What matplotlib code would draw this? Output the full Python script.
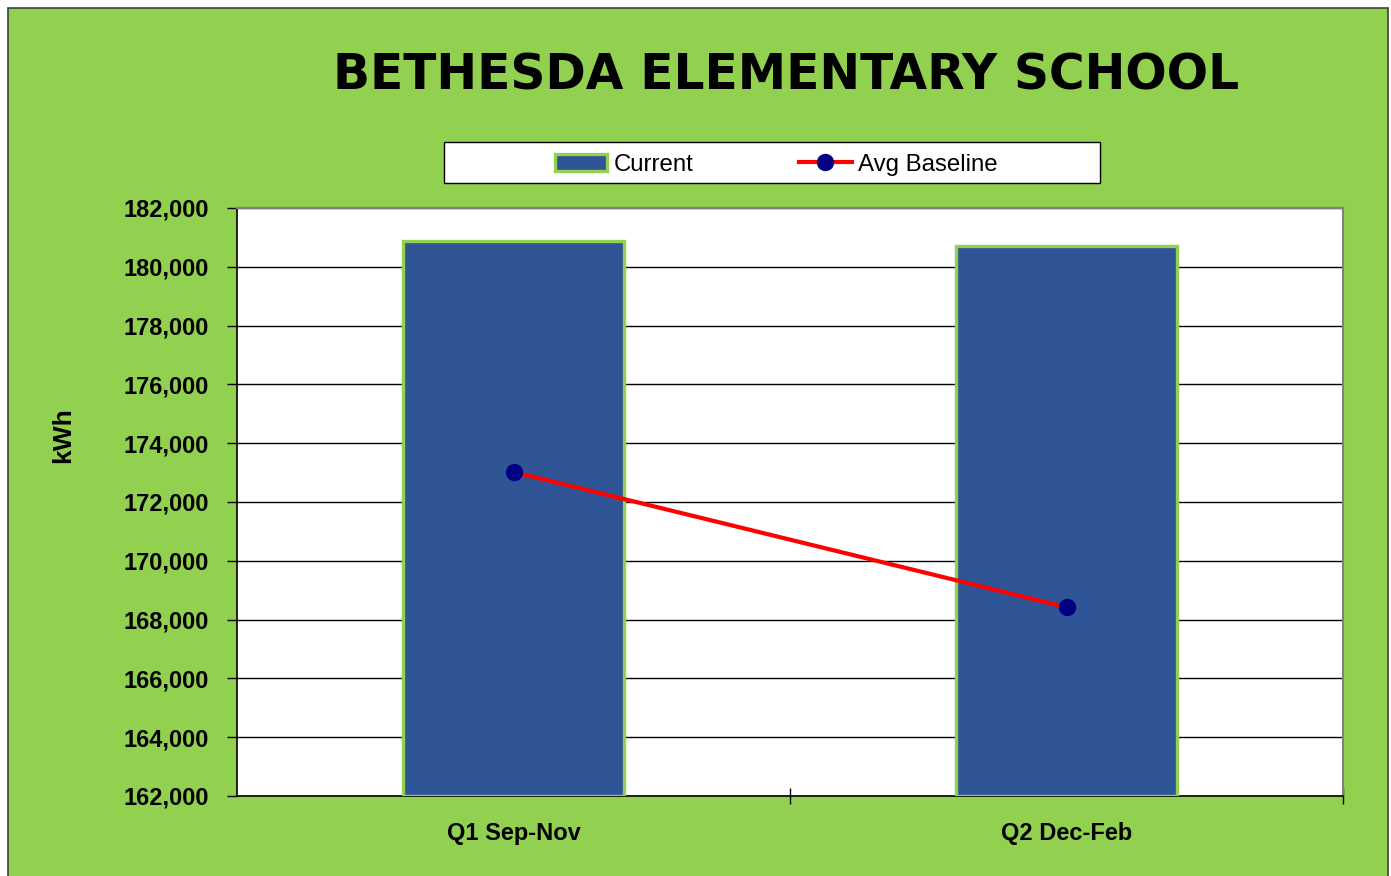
import matplotlib
matplotlib.use("Agg")
import matplotlib.pyplot as plt
from matplotlib.patches import Rectangle, Patch
from matplotlib.lines import Line2D
from matplotlib import font_manager
from matplotlib.ticker import FuncFormatter, FixedLocator

categories = ["Q1 Sep-Nov", "Q2 Dec-Feb"]
current = [180880, 180720]
avg_baseline = [173020, 168420]
yticks = list(range(162000, 182001, 2000))

names = {f.name for f in font_manager.fontManager.ttflist}
narrow = "Liberation Sans Narrow" if "Liberation Sans Narrow" in names else "Liberation Sans"
tick_size = 20 if narrow == "Liberation Sans Narrow" else 17
leg_size = 20 if narrow == "Liberation Sans Narrow" else 17.3

GREEN = "#92D050"
BLUE = "#2F5597"

fig = plt.figure(figsize=(13.91, 8.76), dpi=100)
fig.patch.set_facecolor("white")
W, H = 1391, 876
fig.patches.append(Rectangle((8 / W, -0.01), (1388 - 8) / W, (H - 8) / H + 0.01,
                             transform=fig.transFigure, facecolor=GREEN,
                             edgecolor="#404040", linewidth=1.2, zorder=-10))
# legend box
fig.patches.append(Rectangle((444 / W, 1 - 183 / H), (1100 - 444) / W, (183 - 142) / H,
                             transform=fig.transFigure, facecolor="white",
                             edgecolor="black", linewidth=1.0, zorder=-5))

ax = fig.add_axes([237 / W, 1 - 796 / H, (1343 - 237) / W, (796 - 208) / H])
ax.set_zorder(5)
ax.set_facecolor("white")
x = [0, 1]
ax.bar(x, [c - 162000 for c in current], bottom=162000, width=0.40,
       color=BLUE, edgecolor=GREEN, linewidth=2.4, zorder=3)
ax.plot(x, avg_baseline, color="red", linewidth=3, marker="o", markersize=11.5,
        markerfacecolor="#000080", markeredgecolor="#000080", zorder=4)

ax.set_xlim(-0.5, 1.5)
ax.set_ylim(162000, 182000)
ax.yaxis.set_major_locator(FixedLocator(yticks))
ax.yaxis.set_major_formatter(FuncFormatter(lambda v, p: f"{int(v):,}"))
ax.grid(axis="y", color="black", linewidth=1.0, zorder=1)
ax.set_axisbelow(True)

ax.set_xticks(x)
ax.set_xticklabels(categories)
ax.xaxis.set_minor_locator(FixedLocator([0.5, 1.5]))
ax.tick_params(axis="x", which="major", length=0, pad=19)
ax.tick_params(axis="x", which="minor", length=12, direction="inout", width=1)
ax.tick_params(axis="y", length=7, direction="out", width=1, pad=13)
for lab in ax.get_xticklabels() + ax.get_yticklabels():
    lab.set_fontfamily(narrow)
    lab.set_fontweight("bold")
    lab.set_fontsize(tick_size)

for s in ["top", "right"]:
    ax.spines[s].set_color("#808080")
    ax.spines[s].set_linewidth(1.5)
for s in ["left", "bottom"]:
    ax.spines[s].set_color("black")
    ax.spines[s].set_linewidth(1.2)

fig.text(63 / W, 1 - 435 / H, "kWh", rotation=90, ha="center", va="center",
         fontsize=19, fontweight="bold", family=narrow)

fig.text(786 / W, 1 - 75 / H, "BETHESDA ELEMENTARY SCHOOL", ha="center", va="center",
         fontsize=35, fontweight="heavy", family="DejaVu Sans")

handles = [Patch(facecolor=BLUE, edgecolor=GREEN, linewidth=2.4),
           Line2D([], [], color="red", linewidth=3, marker="o", markersize=11.5,
                  markerfacecolor="#000080", markeredgecolor="#000080")]
leg = fig.legend(handles, ["Current", "Avg Baseline"], loc="center",
                 bbox_to_anchor=(776 / W, 1 - 164.5 / H),
                 ncol=2, frameon=False,
                 prop={"family": narrow, "size": leg_size},
                 columnspacing=4.4, handlelength=2.2, handletextpad=0.25,
                 borderpad=0.3)
leg.set_zorder(10)

fig.savefig("out.png", dpi=100, facecolor=fig.get_facecolor())
